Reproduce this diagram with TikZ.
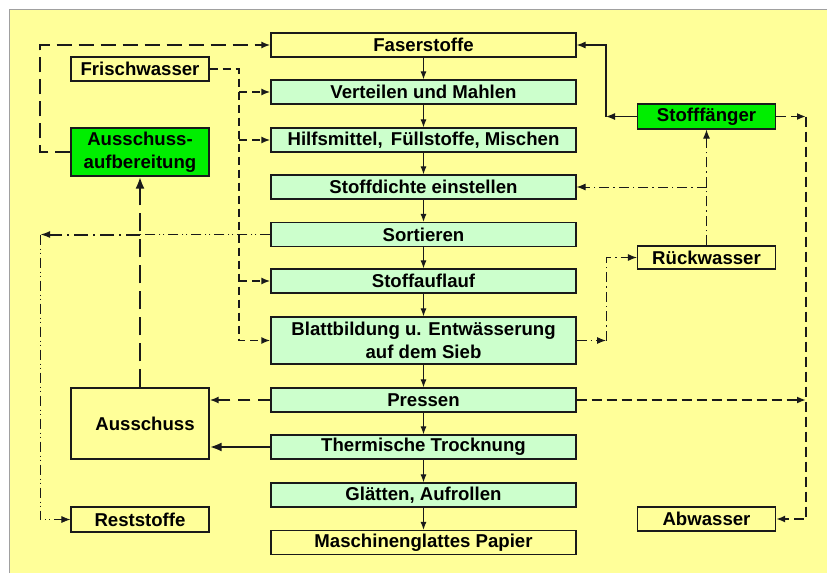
\documentclass[tikz,border=0pt]{standalone}
\usepackage{fontspec}
\setmainfont{Liberation Sans}
\usetikzlibrary{arrows.meta,positioning,calc}
\definecolor{paper}{HTML}{FFFF99}
\definecolor{mint}{HTML}{CCFFCC}
\definecolor{lime1}{HTML}{00EE00}
\definecolor{ink}{HTML}{1A1A1A}
\definecolor{frame1}{HTML}{A0A0A0}

\begin{document}
\begin{tikzpicture}[x=1pt,y=-1pt,font=\fontsize{18.6}{23.5}\selectfont\bfseries,
  box/.style={draw=ink,line width=1.2pt,fill=paper,minimum width=305pt,minimum height=24pt,inner sep=0pt,align=center},
  stage/.style={box,fill=mint},
  side/.style={box,minimum width=138pt},
  hot/.style={side,fill=lime1},
  tip/.style={-{Latex[length=9pt,width=7pt]}},
  flow/.style={draw=ink,line width=1.1pt,-{Latex[length=8pt,width=6pt]}},
  fresh/.style={draw=ink,line width=1.8pt,dash pattern=on 8pt off 5pt},
  rejects/.style={draw=ink,line width=2.4pt,dash pattern=on 15pt off 7pt},
  waste/.style={draw=ink,line width=1.8pt,dash pattern=on 10pt off 5pt},
  white1/.style={draw=ink,line width=1pt,dash pattern=on 10pt off 4pt on 1.5pt off 4pt},
  rest1/.style={draw=ink,line width=0.8pt,dash pattern=on 10pt off 4pt on 1pt off 3pt on 1pt off 4pt}]
  % background sheet
  \useasboundingbox (0,0) rectangle (827,573);
  \fill[white] (0,0) rectangle (827,573);
  \fill[paper] (9,9) rectangle (827,573);
  \draw[frame1,line width=1pt] (9,573) -- (9,9) -- (827,9);
  % main line of the machine
  \node[box]   (fas)    at (423.5,45)    {Faserstoffe};
  \node[stage] (vert)   at (423.5,92)    {Verteilen und Mahlen};
  \node[stage] (hilf)   at (423.5,140)   {Hilfsmittel,\, Füllstoffe, Mischen};
  \node[stage] (dicht)  at (423.5,187)   {Stoffdichte einstellen};
  \node[stage] (sort)   at (423.5,234.5) {Sortieren};
  \node[stage] (aufl)   at (423.5,281)   {Stoffauflauf};
  \node[stage,minimum height=47pt] (blatt) at (423.5,340.5) {Blattbildung u. Entwässerung\\auf dem Sieb};
  \node[stage] (press)  at (423.5,400)   {Pressen};
  \node[stage] (trock)  at (423.5,447)   {Thermische Trocknung};
  \node[stage] (glaett) at (423.5,495)   {Glätten, Aufrollen};
  \node[box]   (papier) at (423.5,542.5) {Maschinenglattes Papier};
  \foreach \a/\b in {fas/vert,vert/hilf,hilf/dicht,dicht/sort,sort/aufl,aufl/blatt,blatt/press,press/trock,trock/glaett,glaett/papier}
    \draw[flow] (\a.south) -- (\b.north);
  % left side
  \node[side] (frisch) at (140,69)    {Frischwasser};
  \node[hot,minimum height=48pt] (aufb) at (140,152) {Ausschuss-\\aufbereitung};
  \node[side,minimum height=71pt] (aus) at (140,423.5) {\hspace{10pt}Ausschuss};
  \node[side,minimum height=25pt] (rest) at (140,519.5) {Reststoffe};
  % right side
  \node[hot,minimum height=25pt] (faeng) at (706.5,116.5) {Stofffänger};
  \node[side,minimum height=23pt] (rueck) at (706.5,257.5) {Rückwasser};
  \node[side] (abw) at (706.5,519) {Abwasser};
  \coordinate (fwx) at (239,0);
  \coordinate (rsx) at (40,0);
  \coordinate (sfx) at (606,0);
  \coordinate (awx) at (806,0);
  % fresh water
  \draw[fresh,tip] (frisch.east) -| (blatt.west -| fwx) -- (blatt.west);
  \foreach \n in {vert,hilf,aufl} \draw[fresh,tip] (\n.west -| fwx) -- (\n.west);
  % broke
  \draw[rejects,tip] (aufb.west) -| ($(fas.west -| rsx)$) -- (fas.west);
  \draw[draw=ink,line width=2.8pt,dash pattern=on 18pt off 8pt,-{Latex[length=12pt,width=9pt]}] (aus.north) -- (aufb.south);
  \draw[draw=ink,line width=2pt,dash pattern=on 12pt off 8pt,tip] (press.west) -- (press.west -| aus.east);
  \draw[draw=ink,line width=2.6pt,-{Latex[length=12pt,width=9pt]}] (trock.west) -- (trock.west -| aus.east);
  \draw[rest1] (sort.west) -- (sort.west -| aus.north);
  \draw[draw=ink,line width=2pt,dash pattern=on 14pt off 5pt on 2pt off 5pt,-{Latex[length=10pt,width=7pt]}] (sort.west -| aus.north) -- (sort.west -| rsx);
  \draw[rest1,tip] (sort.west -| rsx) |- (rest.west);
  % save-all and white water
  \draw[draw=ink,line width=1.2pt,tip] (faeng.west) -- (faeng.west -| sfx);
  \draw[draw=ink,line width=1.2pt,tip] (faeng.west -| sfx) |- (fas.east);
  \draw[waste,tip] (faeng.east) -- (faeng.east -| awx);
  \draw[waste,tip] (faeng.east -| awx) |- (abw.east);
  \draw[waste,tip] (press.east) -- (press.east -| awx);
  \draw[white1,tip] (rueck.north) -- (faeng.south);
  \draw[white1,tip] (rueck.north |- dicht.east) -- (dicht.east);
  \draw[white1,tip] (blatt.east) -- (blatt.east -| sfx);
  \draw[white1,tip] (blatt.east -| sfx) |- (rueck.west);
\end{tikzpicture}
\end{document}
